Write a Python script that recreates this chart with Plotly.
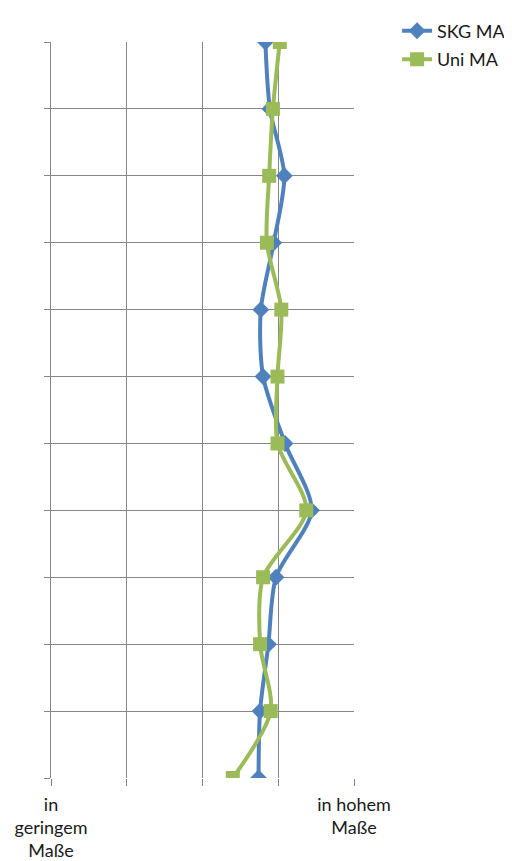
import plotly.graph_objects as go

items = list(range(1, 13))
skg_ma = [3.83, 3.89, 4.08, 3.94, 3.77, 3.80, 4.09, 4.44, 3.97, 3.87, 3.76, 3.74]
uni_ma = [4.02, 3.93, 3.88, 3.85, 4.04, 3.99, 3.99, 4.37, 3.80, 3.76, 3.90, 3.40]
x_ticks = [1, 2, 3, 4, 5]
x_labels = ["in<br>geringem<br>Maße", "", "", "", "in hohem<br>Maße"]

fig = go.Figure()
fig.add_trace(go.Scatter(
    x=skg_ma, y=items, name="SKG MA", mode="lines+markers",
    line=dict(color="#4F81BD", width=4, shape="spline", smoothing=0.8),
    marker=dict(symbol="diamond", size=13, color="#4F81BD"),
    legendgroup="a",
))
fig.add_trace(go.Scatter(
    x=uni_ma, y=items, name="Uni MA", mode="lines+markers",
    line=dict(color="#9BBB59", width=4, shape="spline", smoothing=0.8),
    marker=dict(symbol="square", size=14, color="#9BBB59"),
    legendgroup="b",
))

grid = "#868686"
fig.update_layout(
    template="none",
    width=504, height=853,
    margin=dict(l=43, r=158, t=34, b=83, autoexpand=False),
    paper_bgcolor="white", plot_bgcolor="white",
    font=dict(family="Lato, 'Open Sans', sans-serif", size=18, color="#1a1a1a"),
    showlegend=True,
    legend=dict(xref="container", yref="container", x=0.772, y=0.9946,
                xanchor="left", yanchor="top",
                font=dict(size=18), tracegroupgap=2, bgcolor="rgba(0,0,0,0)"),
    xaxis=dict(range=[1, 5], tickvals=x_ticks, ticktext=x_labels,
               automargin=False,
               showgrid=True, gridcolor=grid, gridwidth=1,
               showline=False, zeroline=False,
               ticks="outside", ticklen=7, tickcolor=grid, tickwidth=1,
               ticklabelstandoff=3, tickfont=dict(size=18)),
    yaxis=dict(range=[12, 1], tickvals=items, ticktext=[""] * 12,
               automargin=False,
               showgrid=True, gridcolor=grid, gridwidth=1,
               showline=True, linecolor=grid, linewidth=1,
               zeroline=False, ticks="outside", ticklen=6, tickcolor=grid),
)
fig.write_html("out.html")
